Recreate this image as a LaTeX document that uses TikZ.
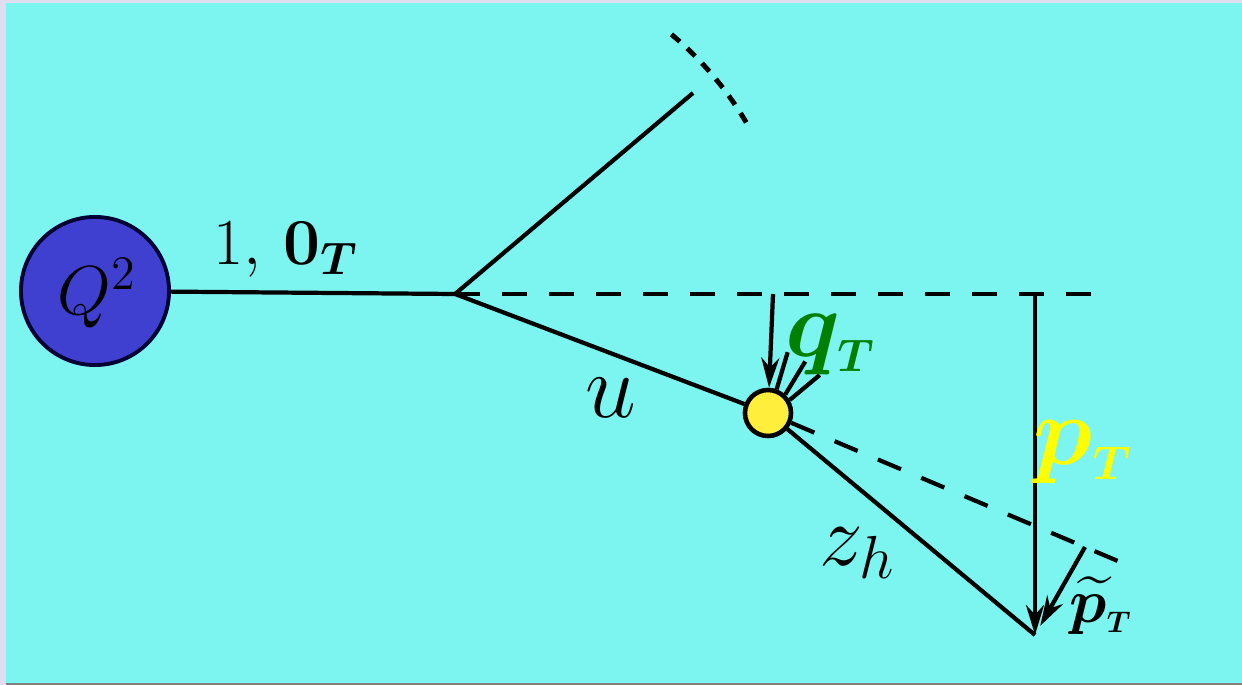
\documentclass[tikz,border=0pt]{standalone}
\usepackage{amsmath}
\usepackage{bm}
\usetikzlibrary{arrows.meta}

\definecolor{sfondo}{RGB}{124,245,240}
\definecolor{cornice}{RGB}{222,222,240}
\definecolor{blu}{RGB}{64,64,208}
\definecolor{giallo}{RGB}{255,238,60}
\definecolor{verde}{RGB}{0,128,0}
\definecolor{gialloP}{RGB}{255,255,0}

\begin{document}
\begin{tikzpicture}[x=0.01cm, y=-0.01cm, line width=1.2pt]
\tikzset{
  freccia/.style={-{Stealth[length=3mm,width=1.8mm]}},
  tratteggio/.style={dash pattern=on 2.5mm off 2.2mm},
  tratteggino/.style={dash pattern=on 1.1mm off 1mm, line width=1.4pt},
  etichetta/.style={inner sep=1pt, font=\fontsize{20}{24}\selectfont},
}
% Sfondo e cornice
\useasboundingbox (0,0) rectangle (1242,685);
\fill[cornice] (0,0) rectangle (1242,685);
\fill[sfondo] (6,3) rectangle (1242,683);
\fill[gray] (6,683) rectangle (1242,685);

% Punti
\coordinate (vtx) at (455,294);
\coordinate (alto) at (693,93);
\coordinate (oriz) at (1095,294);
\coordinate (qtop) at (773,294);
\coordinate (ptop) at (1035,294);
\coordinate (pend) at (1035,635);
\coordinate (dend) at (1132,567);
\coordinate (piede) at (1085,547);

% Cerchi
\node[circle, draw=black!80!blue, fill=blu, line width=1.1pt, minimum size=1.48cm, inner sep=0pt] (qsq) at (95,291) {};
\node[circle, draw, fill=giallo, line width=1.3pt, minimum size=0.46cm, inner sep=0pt] (had) at (768,413) {};

% Linee
\draw (qsq) -- (vtx);
\draw (vtx) -- (alto);
\draw[tratteggio] (vtx) -- (oriz);
\draw (vtx) -- (had);
\draw (had) -- (pend);
\draw[tratteggio] (had) -- (dend);

% Arco tratteggiato
\draw[tratteggino] plot[domain=30.5:50.7, samples=30] ({455+338*cos(\x)}, {294-338*sin(\x)});

% Frecce
\draw[freccia] (qtop) -- (had);
\draw[freccia] (ptop) -- (pend);
\draw[freccia, shorten >=3pt] (piede) -- (pend);

% Emissioni dal adrone
\foreach \a/\dx/\dy in {70/11/-37, 47/20/-33, 31/30/-25}
  \draw (had.\a) -- ++(\dx,\dy);

% Etichette
\node[etichetta, scale=0.95] (lqsq) at (97,293) {$Q^2$};
\node[etichetta, scale=0.9] (luno) at (286,250) {$1,\,\mathbf{0}_{\bm{T}}$};
\node[etichetta, scale=1.25] (lu) at (611,398) {$u$};
\node[etichetta, scale=1.3, text=verde] (lq) at (831,345) {$\bm{q}_{\scriptscriptstyle\bm{T}}$};
\node[etichetta, scale=1.35, text=gialloP] (lp) at (1083,452) {$\bm{p}_{\scriptscriptstyle\bm{T}}$};
\node[etichetta, scale=1.2] (lz) at (858,553) {$z_h$};
\node[etichetta, scale=0.85] (lpt) at (1101,606) {$\widetilde{\bm{p}}_{\scriptscriptstyle\bm{T}}$};
\end{tikzpicture}
\end{document}
